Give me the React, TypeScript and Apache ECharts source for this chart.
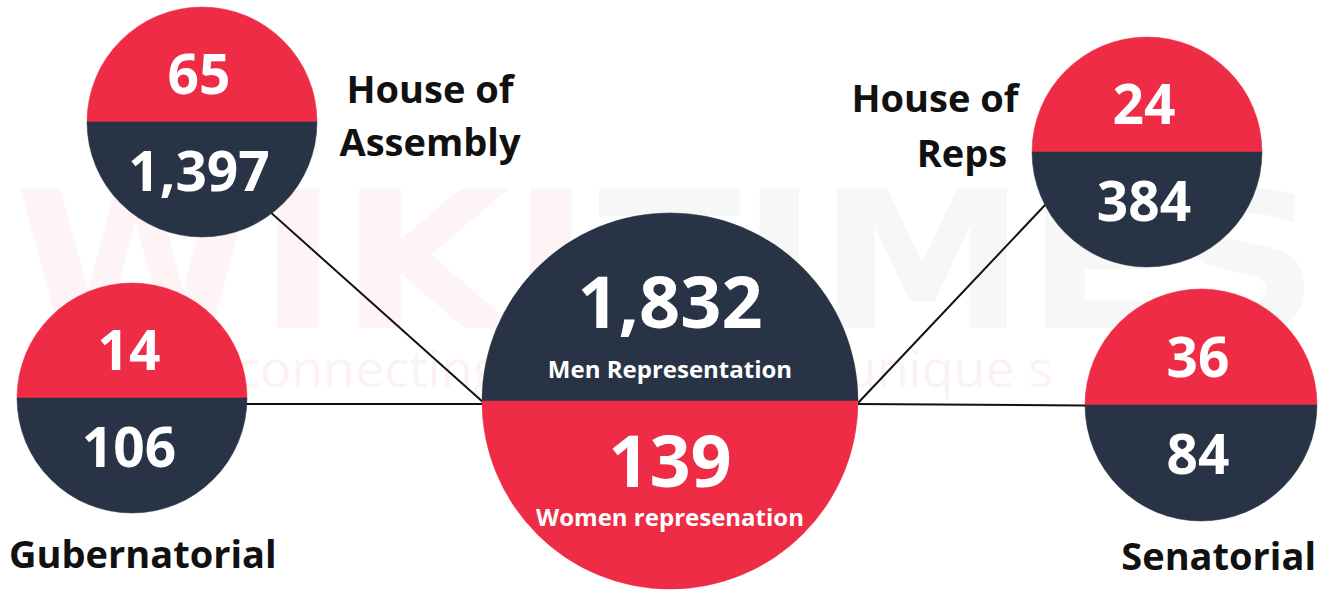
import React, { useEffect, useRef } from "react";
import * as echarts from "echarts";

// ---- data ----
const categories = ["House of Assembly", "Gubernatorial", "House of Reps", "Senatorial"];
const womenValues = [65, 14, 24, 36];
const menValues = [1397, 106, 384, 84];
const totalWomen = 139;
const totalMen = 1832;
const totalMenLabel = "Men Representation";
const totalWomenLabel = "Women represenation";

// ---- layout (positions / sizes only) ----
const nodeLayout = [
  { cx: 202, cy: 122, r: 115 },
  { cx: 132, cy: 398, r: 115 },
  { cx: 1147, cy: 152, r: 115 },
  { cx: 1201, cy: 405, r: 116 },
];
const centerLayout = { cx: 670, cy: 401, r: 188 };
const linkLayout = [
  [240, 185, 484, 403],
  [200, 404, 484, 404],
  [1080, 168, 858, 403],
  [858, 404, 1150, 406],
];
const labelLayout = [
  [{ text: "House of", x: 430, y: 88, align: "center" }, { text: "Assembly", x: 430, y: 141, align: "center" }],
  [{ text: "Gubernatorial", x: 9, y: 553, align: "left" }],
  [{ text: "House of", x: 935, y: 97, align: "center" }, { text: "Reps", x: 962, y: 152, align: "center" }],
  [{ text: "Senatorial", x: 1316, y: 555, align: "right" }],
];

const RED = "#ee2c45";
const NAVY = "#283445";
const FONT = "'Open Sans', 'Noto Sans', sans-serif";

const fmt = (v: number) => v.toLocaleString("en-US");

function half(cx: number, cy: number, r: number, top: boolean, color: string) {
  return {
    type: "sector",
    shape: {
      cx, cy, r, r0: 0,
      startAngle: top ? Math.PI : 0,
      endAngle: top ? Math.PI * 2 : Math.PI,
      clockwise: true,
    },
    style: { fill: color, stroke: color, lineWidth: 0.5 },
  };
}

function txt(text: string, x: number, y: number, size: number, color: string, align = "center") {
  return {
    type: "text",
    x, y,
    style: {
      text,
      fill: color,
      font: `bold ${size}px ${FONT}`,
      textAlign: align,
      textVerticalAlign: "middle",
    },
  };
}

export default function App() {
  const ref = useRef<HTMLDivElement>(null);
  useEffect(() => {
    if (!ref.current) return;
    const chart = echarts.init(ref.current, undefined, { renderer: "svg" });
    const elements: any[] = [];

    // faint watermark
    elements.push({
      type: "text", x: 14, y: 262, scaleX: 1.16, silent: true,
      style: { text: "WIKI", fill: "#fef4f5", font: `900 190px 'DejaVu Sans', sans-serif`, textVerticalAlign: "middle" },
    });
    elements.push({
      type: "text", x: 598, y: 262, scaleX: 1.1, silent: true,
      style: { text: "TIMES", fill: "#f6f7f7", font: `900 190px 'DejaVu Sans', sans-serif`, textVerticalAlign: "middle" },
    });
    elements.push({
      type: "text", x: 235, y: 366, silent: true,
      style: { text: "connecting the dots with unique s", fill: "#fdf2f3", font: `500 52px ${FONT}`, textVerticalAlign: "middle" },
    });

    // links
    linkLayout.forEach(([x1, y1, x2, y2]) => {
      elements.push({
        type: "line",
        shape: { x1, y1, x2, y2 },
        style: { stroke: "#111111", lineWidth: 2 },
      });
    });

    // category nodes
    categories.forEach((_, i) => {
      const { cx, cy, r } = nodeLayout[i];
      elements.push(half(cx, cy, r, true, RED));
      elements.push(half(cx, cy, r, false, NAVY));
      elements.push(txt(fmt(womenValues[i]), cx - 3, cy - r * 0.43, 55, "#ffffff"));
      elements.push(txt(fmt(menValues[i]), cx - 3, cy + r * 0.41, 55, "#ffffff"));
      labelLayout[i].forEach((l) => elements.push(txt(l.text, l.x, l.y, 38, "#111111", l.align)));
    });

    // center node
    const c = centerLayout;
    elements.push(half(c.cx, c.cy, c.r, true, NAVY));
    elements.push(half(c.cx, c.cy, c.r, false, RED));
    elements.push(txt(fmt(totalMen), c.cx, 300, 72, "#ffffff"));
    elements.push(txt(totalMenLabel, c.cx, 368, 24, "#ffffff"));
    elements.push(txt(fmt(totalWomen), c.cx, 459, 72, "#ffffff"));
    elements.push(txt(totalWomenLabel, c.cx, 516, 24, "#ffffff"));

    chart.setOption({
      animation: false,
      backgroundColor: "#ffffff",
      graphic: { elements },
    });
    return () => chart.dispose();
  }, []);
  return (
    <div
      ref={ref}
      style={{ position: "fixed", left: 0, top: 0, width: 1318, height: 598 }}
    />
  );
}
